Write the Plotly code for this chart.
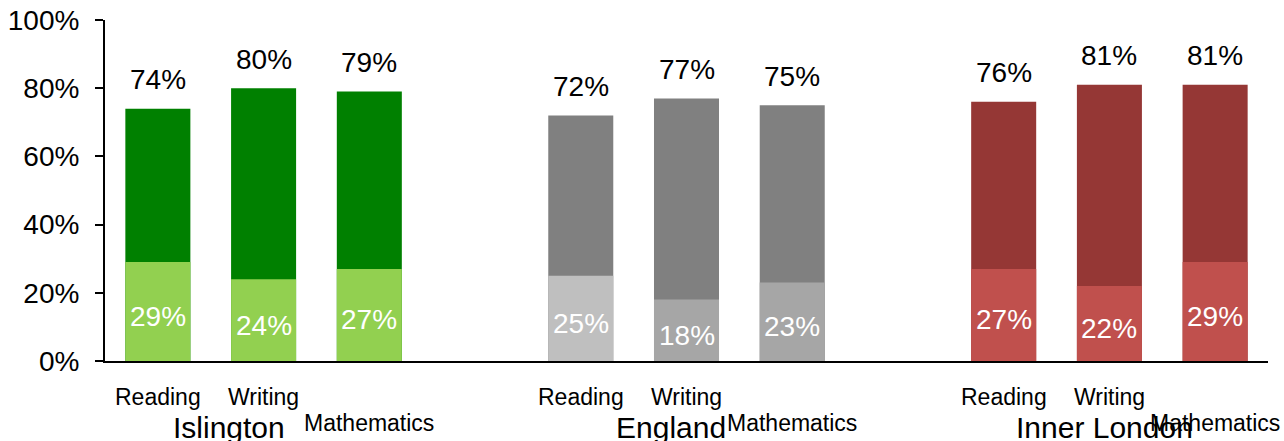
import plotly.graph_objects as go

groups = ["Islington", "England", "Inner London"]
subjects = ["Reading", "Writing", "Mathematics"]

islington_total = [74, 80, 79]
islington_lower = [29, 24, 27]
england_total = [72, 77, 75]
england_lower = [25, 18, 23]
inner_london_total = [76, 81, 81]
inner_london_lower = [27, 22, 29]

y_ticks = [0, 20, 40, 60, 80, 100]
y_tick_labels = ["0%", "20%", "40%", "60%", "80%", "100%"]

totals = [islington_total, england_total, inner_london_total]
lowers = [islington_lower, england_lower, inner_london_lower]
dark_colors = ["#008000", "#808080", "#953735"]
light_colors = [["#92D050"] * 3, ["#BFBFBF", "#A6A6A6", "#A6A6A6"], ["#C0504D"] * 3]
group_label_shift = [-35, -16, -5]

FONT = "Liberation Sans, Arial, sans-serif"
BAR_W = 0.615

fig = go.Figure()
annotations = []

for gi, g in enumerate(groups):
    xs = [gi * 4 + si for si in range(len(subjects))]
    fig.add_trace(go.Bar(
        x=xs, y=totals[gi], width=BAR_W,
        marker=dict(color=dark_colors[gi], line=dict(width=0)),
        showlegend=False, hoverinfo="skip",
    ))
    fig.add_trace(go.Bar(
        x=xs, y=lowers[gi], width=BAR_W,
        marker=dict(color=light_colors[gi], line=dict(width=0)),
        showlegend=False, hoverinfo="skip",
    ))
    for si, s in enumerate(subjects):
        annotations.append(dict(
            x=xs[si], y=totals[gi][si], xref="x", yref="y",
            text=f"{totals[gi][si]}%", showarrow=False,
            yanchor="middle", yshift=29,
            font=dict(size=28, color="black", family=FONT),
        ))
        annotations.append(dict(
            x=xs[si], y=lowers[gi][si] / 2, xref="x", yref="y",
            text=f"{lowers[gi][si]}%", showarrow=False,
            yanchor="middle", yshift=-5,
            font=dict(size=28, color="white", family=FONT),
        ))
        annotations.append(dict(
            x=xs[si], y=0, xref="x", yref="paper",
            text=s, showarrow=False, yanchor="middle",
            yshift=-36 if si < 2 else -62,
            font=dict(size=23, color="black", family=FONT),
        ))
    annotations.append(dict(
        x=xs[1], y=0, xref="x", yref="paper",
        text=g, showarrow=False, yanchor="middle",
        yshift=-66, xshift=group_label_shift[gi],
        font=dict(size=30, color="black", family=FONT),
    ))

fig.update_layout(
    width=1284, height=441,
    margin=dict(l=105, r=16, t=20, b=80),
    paper_bgcolor="white", plot_bgcolor="white",
    barmode="overlay",
    annotations=annotations,
    font=dict(family=FONT, color="black"),
)
fig.update_xaxes(
    range=[-0.5, 10.5], showticklabels=False, ticks="",
    showgrid=False, zeroline=False, automargin=False,
    showline=True, linecolor="black", linewidth=2,
)
fig.update_yaxes(
    range=[0, 100], tickvals=y_ticks, ticktext=y_tick_labels,
    showgrid=False, zeroline=False, automargin=False,
    showline=True, linecolor="black", linewidth=2,
    ticks="outside", ticklen=8, tickwidth=2, tickcolor="black",
    tickfont=dict(size=28, color="black", family=FONT),
    ticklabelstandoff=10,
)

fig.write_html("out.html")
